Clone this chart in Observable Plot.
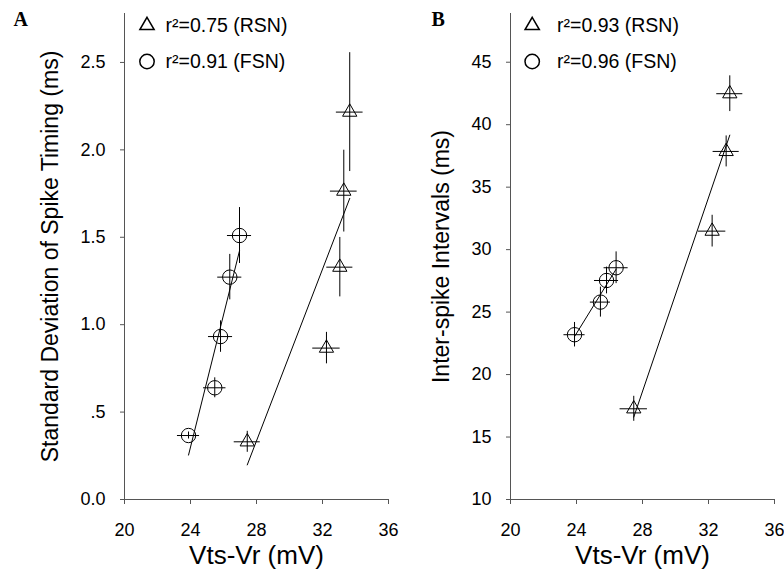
<!DOCTYPE html>
<html><head><meta charset="utf-8">
<script src="https://cdn.jsdelivr.net/npm/d3@7"></script>
<script src="https://cdn.jsdelivr.net/npm/@observablehq/plot@0.6"></script>
<style>
html,body{margin:0;padding:0;background:#fff;}
#wrap{display:flex;width:784px;height:584px;overflow:hidden;background:#fff;}
#wrap svg{flex:none;display:block;}
</style></head><body><div id="wrap"></div>
<script>
// ---------- Panel A data: SD of spike timing (ms) vs Vts-Vr (mV) ----------
const rsnX_A = [27.44, 32.24, 33.05, 33.29, 33.65];
const rsnY_A = [0.33, 0.866, 1.329, 1.764, 2.216];
const rsnXerr_A = [0.79, 0.83, 0.79, 0.81, 0.81];
const rsnYerr_A = [0.06, 0.09, 0.17, 0.234, 0.34];
const fsnX_A = [23.88, 25.47, 25.82, 26.38, 26.97];
const fsnY_A = [0.366, 0.639, 0.932, 1.272, 1.51];
const fsnXerr_A = [0.67, 0.68, 0.73, 0.73, 0.73];
const fsnYerr_A = [0.02, 0.057, 0.09, 0.13, 0.16];

// ---------- Panel B data: inter-spike intervals (ms) vs Vts-Vr (mV) ----------
const rsnX_B = [27.47, 32.22, 33.07, 33.29];
const rsnY_B = [17.26, 31.48, 37.86, 42.48];
const rsnXerr_B = [0.83, 0.83, 0.79, 0.79];
const rsnYerr_B = [1.0, 1.27, 1.24, 1.43];
const fsnX_B = [23.88, 25.45, 25.82, 26.4];
const fsnY_B = [23.19, 25.8, 27.53, 28.55];
const fsnXerr_B = [0.64, 0.61, 0.73, 0.73];
const fsnYerr_B = [0.98, 1.2, 1.07, 1.27];

// ---------- ticks & labels ----------
const xTicks = [20, 24, 28, 32, 36];
const yTicksA = [0, 0.5, 1, 1.5, 2, 2.5];
const yTickLabelsA = ["0.0", ".5", "1.0", "1.5", "2.0", "2.5"];
const yTicksB = [10, 15, 20, 25, 30, 35, 40, 45];
const yTickLabelsB = ["10", "15", "20", "25", "30", "35", "40", "45"];
const legendA = ["r\u00B2=0.75 (RSN)", "r\u00B2=0.91 (FSN)"];
const legendB = ["r\u00B2=0.93 (RSN)", "r\u00B2=0.96 (FSN)"];
const xTitle = "Vts-Vr (mV)";
const yTitleA = "Standard Deviation of Spike Timing (ms)";
const yTitleB = "Inter-spike Intervals (ms)";

function rows(xs, ys, xe, ye) {
  return xs.map((x, i) => ({x, y: ys[i], xe: xe[i], ye: ye[i]}));
}

const SANS = "Liberation Sans, Arial, Helvetica, sans-serif";
const AXIS = "#555";

function panel(cfg) {
  const rsn = rows(cfg.rx, cfg.ry, cfg.rxe, cfg.rye);
  const fsn = rows(cfg.fx, cfg.fy, cfg.fxe, cfg.fye);
  const all = rsn.concat(fsn);
  const labelMap = new Map(cfg.yTicks.map((t, i) => [t, cfg.yLabels[i]]));
  return Plot.plot({
    width: cfg.width, height: 584,
    marginTop: 13, marginBottom: 85, marginLeft: cfg.ml, marginRight: cfg.mr,
    style: {fontFamily: SANS, background: "transparent", overflow: "visible"},
    x: {domain: [20, 36]},
    y: {domain: cfg.yDomain},
    marks: [
      Plot.ruleX([20], {stroke: AXIS}),
      Plot.ruleY([cfg.yDomain[0]], {stroke: AXIS}),
      Plot.axisX({ticks: xTicks, tickSize: 5, tickPadding: 19, fontSize: 18, stroke: AXIS, fill: "black", label: null, tickFormat: d => String(d)}),
      Plot.axisY({ticks: cfg.yTicks, tickSize: 4, tickPadding: 15, fontSize: 18, stroke: AXIS, fill: "black", label: null, tickFormat: d => labelMap.get(d)}),
      // error bars
      Plot.ruleX(all, {x: "x", y1: d => d.y - d.ye, y2: d => d.y + d.ye, stroke: "black", strokeWidth: 1}),
      Plot.ruleY(all, {y: "y", x1: d => d.x - d.xe, x2: d => d.x + d.xe, stroke: "black", strokeWidth: 1}),
      // regression lines
      Plot.linearRegressionY(rsn, {x: "x", y: "y", ci: 0, stroke: "black", strokeWidth: 1}),
      Plot.linearRegressionY(fsn, {x: "x", y: "y", ci: 0, stroke: "black", strokeWidth: 1}),
      // markers
      Plot.dot(rsn, {x: "x", y: "y", symbol: "triangle", r: 5.3, stroke: "black", strokeWidth: 1, fill: "none"}),
      Plot.dot(fsn, {x: "x", y: "y", symbol: "circle", r: 7.2, stroke: "black", strokeWidth: 1, fill: "none"}),
      // legend
      Plot.dot([0], {frameAnchor: "top-left", dx: cfg.legDx, dy: 12, symbol: "triangle", r: 5.3, stroke: "black", fill: "none"}),
      Plot.dot([0], {frameAnchor: "top-left", dx: cfg.legDx, dy: 48, symbol: "circle", r: 7.2, stroke: "black", fill: "none"}),
      Plot.text([cfg.legend[0]], {frameAnchor: "top-left", dx: cfg.legTx, dy: 12, textAnchor: "start", lineAnchor: "middle", fontSize: 19.5, fill: "black"}),
      Plot.text([cfg.legend[1]], {frameAnchor: "top-left", dx: cfg.legTx, dy: 48, textAnchor: "start", lineAnchor: "middle", fontSize: 19.5, fill: "black"}),
      // panel letter
      Plot.text([cfg.letter], {frameAnchor: "top-left", dx: cfg.letterDx, dy: 12, textAnchor: "start", lineAnchor: "bottom", fontSize: 20, fontWeight: "bold", fontFamily: "Liberation Serif, Times New Roman, serif", fill: "black"}),
      // axis titles
      Plot.text([xTitle], {frameAnchor: "bottom", dy: 56, textAnchor: "middle", lineAnchor: "middle", fontSize: 26, fill: "black"}),
      Plot.text([cfg.yTitle], {frameAnchor: "left", dx: cfg.yTitleDx, rotate: -90, textAnchor: "middle", lineAnchor: "middle", fontSize: 23, fill: "black"})
    ]
  });
}

const wrap = document.getElementById("wrap");
wrap.appendChild(panel({
  width: 400, ml: 124, mr: 12, yDomain: [0, 2.78],
  rx: rsnX_A, ry: rsnY_A, rxe: rsnXerr_A, rye: rsnYerr_A,
  fx: fsnX_A, fy: fsnY_A, fxe: fsnXerr_A, fye: fsnYerr_A,
  yTicks: yTicksA, yLabels: yTickLabelsA, legend: legendA,
  legDx: 22.5, legTx: 41, letter: "A", letterDx: -111, yTitle: yTitleA, yTitleDx: -74
}));
wrap.appendChild(panel({
  width: 384, ml: 110, mr: 10, yDomain: [10, 48.9],
  rx: rsnX_B, ry: rsnY_B, rxe: rsnXerr_B, rye: rsnYerr_B,
  fx: fsnX_B, fy: fsnY_B, fxe: fsnXerr_B, fye: fsnYerr_B,
  yTicks: yTicksB, yLabels: yTickLabelsB, legend: legendB,
  legDx: 21.7, legTx: 46.5, letter: "B", letterDx: -79, yTitle: yTitleB, yTitleDx: -69
}));
</script></body></html>
